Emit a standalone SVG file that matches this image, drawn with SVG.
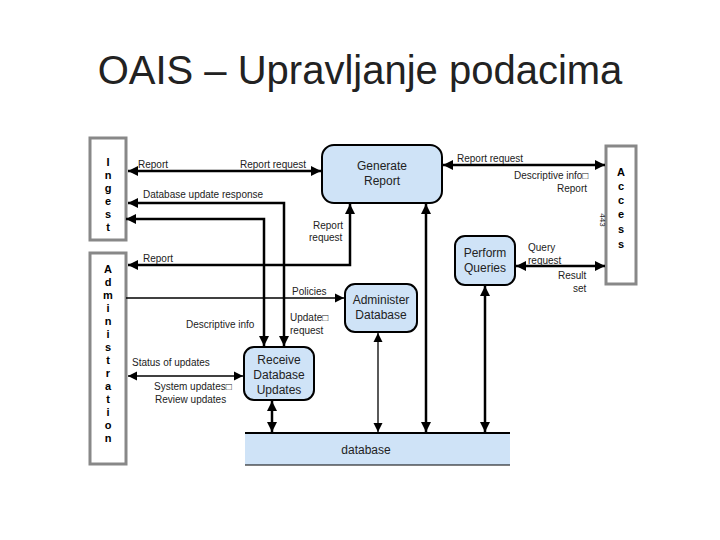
<svg xmlns="http://www.w3.org/2000/svg" width="720" height="540" viewBox="0 0 720 540">
<defs>
<marker id="a" viewBox="0 0 10 10" refX="10" refY="5" markerWidth="4" markerHeight="4" orient="auto-start-reverse"><path d="M0,0L10,5L0,10z" fill="#000"/></marker>
<marker id="b" viewBox="0 0 10 10" refX="10" refY="5" markerWidth="7" markerHeight="7" orient="auto-start-reverse"><path d="M0,0L10,5L0,10z" fill="#000"/></marker>
</defs>
<style>
text{font-family:"Liberation Sans",Arial,sans-serif;fill:#222}
.l{font-size:10px}
.v{font-size:11px;font-weight:bold;text-anchor:middle;fill:#000}
.n{font-size:12px;text-anchor:middle}
.side{fill:#fff;stroke:#888;stroke-width:3}
.proc{fill:#cfe3f7;stroke:#000;stroke-width:2}
.k{fill:none;stroke:#000;stroke-width:2.5;marker-end:url(#a);marker-start:url(#a)}
.t{fill:none;stroke:#000;stroke-width:1.3;marker-end:url(#b)}
.t2{fill:none;stroke:#000;stroke-width:1.3;marker-end:url(#b);marker-start:url(#b)}
</style>
<rect width="720" height="540" fill="#fff"/>
<text x="360" y="84" font-size="40" text-anchor="middle" fill="#000">OAIS – Upravljanje podacima</text>
<g id="ingest"><rect class="side" x="90" y="138" width="36" height="102"/>
<text class="v" x="108" y="166">I</text><text class="v" x="108" y="179">n</text><text class="v" x="108" y="192">g</text><text class="v" x="108" y="205">e</text><text class="v" x="108" y="218">s</text><text class="v" x="108" y="231">t</text></g>
<g id="admin"><rect class="side" x="90" y="253" width="36" height="211"/>
<text class="v" x="108" y="273">A</text><text class="v" x="108" y="286">d</text><text class="v" x="108" y="299">m</text><text class="v" x="108" y="312">i</text><text class="v" x="108" y="325">n</text><text class="v" x="108" y="338">i</text><text class="v" x="108" y="351">s</text><text class="v" x="108" y="364">t</text><text class="v" x="108" y="377">r</text><text class="v" x="108" y="390">a</text><text class="v" x="108" y="403">t</text><text class="v" x="108" y="416">i</text><text class="v" x="108" y="429">o</text><text class="v" x="108" y="442">n</text></g>
<g id="access"><rect class="side" x="606" y="146" width="30" height="138"/>
<text class="v" x="621" y="176">A</text><text class="v" x="621" y="190">c</text><text class="v" x="621" y="204">c</text><text class="v" x="621" y="218">e</text><text class="v" x="621" y="233">s</text><text class="v" x="621" y="248">s</text></g>
<g id="genreport"><rect class="proc" x="322" y="145" width="120" height="58" rx="12"/><text class="n" x="382" y="170">Generate</text><text class="n" x="382" y="185">Report</text></g>
<g id="admindb"><rect class="proc" x="345" y="284" width="72" height="48" rx="10"/><text class="n" x="381" y="304">Administer</text><text class="n" x="381" y="319">Database</text></g>
<g id="perform"><rect class="proc" x="455" y="236" width="60" height="49" rx="10"/><text class="n" x="485" y="257">Perform</text><text class="n" x="485" y="272">Queries</text></g>
<g id="receive"><rect class="proc" x="244" y="347" width="70" height="53" rx="10"/><text class="n" x="279" y="364">Receive</text><text class="n" x="279" y="379">Database</text><text class="n" x="279" y="394">Updates</text></g>
<g id="database"><rect x="245" y="433" width="265" height="32" fill="#cfe3f7"/><line x1="245" y1="433" x2="510" y2="433" stroke="#000" stroke-width="2"/><line x1="245" y1="465" x2="510" y2="465" stroke="#000" stroke-width="1"/><text class="n" x="366" y="454">database</text></g>
<g id="connectors">
<line class="k" x1="128" y1="171" x2="321" y2="171"/>
<polyline class="k" points="128,203 284,203 284,346"/>
<polyline class="k" points="126,219 264,219 264,346" marker-start="none"/>
<polyline class="k" points="128,265 350,265 350,204"/>
<line class="t" x1="126" y1="298" x2="344" y2="298"/>
<line class="t2" x1="128" y1="376" x2="243" y2="376"/>
<line class="k" x1="272" y1="401" x2="272" y2="432"/>
<line class="t2" x1="378" y1="333" x2="378" y2="432"/>
<line class="k" x1="426" y1="204" x2="426" y2="432"/>
<line class="k" x1="485" y1="286" x2="485" y2="432"/>
<line class="k" x1="443" y1="165" x2="605" y2="165"/>
<line class="k" x1="516" y1="266" x2="605" y2="266"/>
</g>
<g id="labels">
<text class="l" x="138" y="168">Report</text>
<text class="l" x="240" y="168">Report request</text>
<text class="l" x="143" y="198">Database update response</text>
<text class="l" x="313" y="229">Report</text><text class="l" x="309" y="241">request</text>
<text class="l" x="143" y="262">Report</text>
<text class="l" x="292" y="295">Policies</text>
<text class="l" x="186" y="328">Descriptive info</text>
<text class="l" x="290" y="321">Update□</text><text class="l" x="290" y="334">request</text>
<text class="l" x="132" y="366">Status of updates</text>
<text class="l" x="154" y="390">System updates□</text><text class="l" x="155" y="403">Review updates</text>
<text class="l" x="457" y="162">Report request</text>
<text class="l" x="514" y="179">Descriptive info□</text>
<text class="l" x="557" y="192">Report</text>
<text class="l" x="528" y="251">Query</text><text class="l" x="528" y="264">request</text>
<text class="l" x="558" y="279">Result</text><text class="l" x="573" y="292">set</text>
<text x="600" y="220" font-size="8" transform="rotate(90 600 220)" text-anchor="middle" fill="#555">443</text>
</g>
</svg>
